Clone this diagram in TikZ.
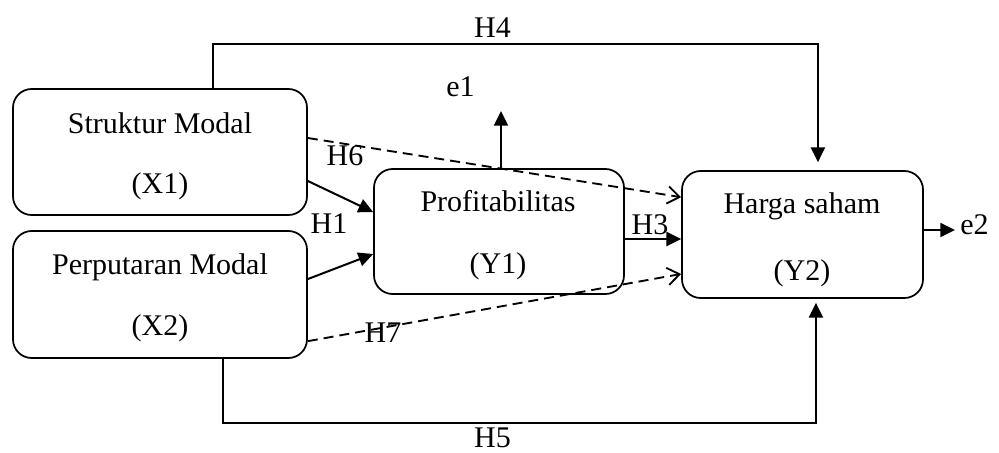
\documentclass[tikz,border=0pt]{standalone}
\usepackage{fontspec}
\setmainfont{Liberation Serif}
\usetikzlibrary{arrows.meta}
\begin{document}
\begin{tikzpicture}[x=0.75pt,y=-0.75pt,
  box/.style={draw, line width=1.3pt, rounded corners=14pt, inner sep=0pt},
  txt/.style={font=\fontsize{22.5pt}{27pt}\selectfont, inner sep=0pt, anchor=base},
  link/.style={line width=1.5pt},
  solidtip/.style={-{Triangle[length=11pt,width=10.5pt]}},
  solidarrow/.style={line width=1.5pt, solidtip},
  dasharrow/.style={line width=1.4pt, dash pattern=on 7.5pt off 4.5pt,
    -{Straight Barb[length=9pt,width=13pt,line width=1.4pt]}}]
\useasboundingbox (0,0) rectangle (999,453);

% variable boxes
\node[box, minimum width=220.5pt, minimum height=94.5pt]  (sm) at (160,152)   {};
\node[box, minimum width=220.5pt, minimum height=95.25pt] (pp) at (160,294.5) {};
\node[box, minimum width=187.5pt, minimum height=93.75pt] (pr) at (499,231.5) {};
\node[box, minimum width=180.75pt, minimum height=95.25pt] (hs) at (802.5,234.5) {};

% box captions
\node[txt] (sm1) at (160,133) {Struktur Modal};
\node[txt] (sm2) at (160,193) {(X1)};
\node[txt] (pp1) at (160,274) {Perputaran Modal};
\node[txt] (pp2) at (160,335) {(X2)};
\node[txt] (pr1) at (498,211) {Profitabilitas};
\node[txt] (pr2) at (498,273) {(Y1)};
\node[txt] (hs1) at (802,213) {Harga saham};
\node[txt] (hs2) at (802,280) {(Y2)};

% error terms
\node[txt] (e1) at (460.5,96) {e1};
\node[txt, anchor=base west] (e2) at (960,234) {e2};
\coordinate (e1tip) at (501,111);
\coordinate (e2tip) at (955,230);

% helper points for routing
\coordinate (h3y) at (650,239);
\coordinate (h4l) at (213,44);
\coordinate (h5l) at (223,423);

% direct effects
\draw[solidarrow] ([yshift=-21.75pt]sm.east) -- ([yshift=14.6pt]pr.west);
\draw[solidarrow] ([yshift=11.6pt]pp.east) -- ([yshift=-16.9pt]pr.west);
\draw[solidarrow] (pr.east |- h3y) -- (hs.west |- h3y);
\draw[solidarrow] (pr.north -| e1tip) -- (e1tip);
\draw[solidarrow] (hs.east |- e2tip) -- (e2tip);

% outer paths H4 and H5
\draw[link, solidtip, shorten >=6pt]
  (sm.north -| h4l) -- (h4l) -| ([xshift=11.6pt]hs.north);
\draw[link, solidtip, shorten >=3pt]
  (pp.south -| h5l) -- (h5l) -| ([xshift=10.1pt]hs.south);

% mediated (dashed) effects
\draw[dasharrow] ([yshift=10.5pt]sm.east) -- ([yshift=28pt]hs.west);
\draw[dasharrow] ([yshift=-35pt]pp.east) -- ([yshift=-29.6pt]hs.west);

% hypothesis labels
\node[txt] (lh1) at (329,233) {H1};
\node[txt] (lh3) at (650,234) {H3};
\node[txt] (lh4) at (492.5,38) {H4};
\node[txt] (lh5) at (492.5,447) {H5};
\node[txt] (lh6) at (345,165) {H6};
\node[txt] (lh7) at (383,342) {H7};
\end{tikzpicture}
\end{document}
